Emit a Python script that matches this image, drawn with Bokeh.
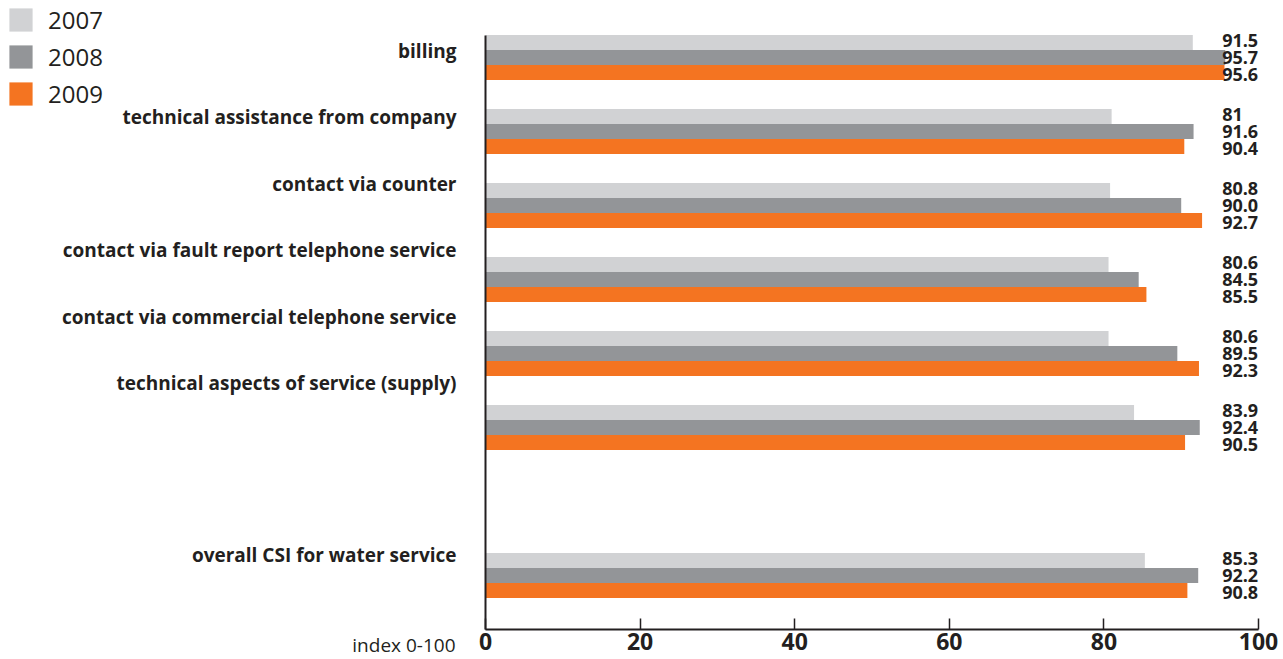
from bokeh.plotting import figure
from bokeh.models import (Range1d, FixedTicker, ColumnDataSource, Legend, LegendItem,
                          LabelSet, Label, LinearAxis)
from bokeh.core.properties import value
from bokeh.embed import file_html
from bokeh.resources import INLINE

# ---------------- data ----------------
categories = [
    "billing",
    "technical assistance from company",
    "contact via counter",
    "contact via fault report telephone service",
    "contact via commercial telephone service",
    "technical aspects of service (supply)",
    "overall CSI for water service",
]
years = ["2007", "2008", "2009"]
values_2007 = [91.5, 81, 80.8, 80.6, 80.6, 83.9, 85.3]
values_2008 = [95.7, 91.6, 90.0, 84.5, 89.5, 92.4, 92.2]
values_2009 = [95.6, 90.4, 92.7, 85.5, 92.3, 90.5, 90.8]
labels_2007 = ["91.5", "81", "80.8", "80.6", "80.6", "83.9", "85.3"]
labels_2008 = ["95.7", "91.6", "90.0", "84.5", "89.5", "92.4", "92.2"]
labels_2009 = ["95.6", "90.4", "92.7", "85.5", "92.3", "90.5", "90.8"]
x_ticks = [0, 20, 40, 60, 80, 100]
axis_note = "index 0-100"

# ---------------- layout / style ----------------
TXT = "#231f20"
COLORS = ["#d1d2d4", "#939598", "#f47421"]
FONT = "Open Sans"
W, H = 1283, 659
X0, X100 = 485, 1258          # pixel columns of 0 and 100
PX = (X100 - X0) / 100.0
slot = [0, 1, 2, 3, 4, 5, 7]            # group slots (gap before overall)
centers = [57 + 74 * s for s in slot]    # y position (pixel-like units from top)
label_y = [50, 116, 183, 249, 316, 382, 554]
BAR_H = 15
AXIS_Y = 629
AXIS_TOP = 35

p = figure(width=W, height=H, output_backend="svg", toolbar_location=None,
           x_range=Range1d(-X0 / PX, 100 + (W - X100) / PX), y_range=Range1d(H, 0),
           x_axis_type=None, y_axis_type=None, min_border=0)
p.outline_line_color = None
p.grid.visible = False
p.background_fill_color = "white"
p.border_fill_color = "white"

renderers = []
for i, (vals, col) in enumerate(zip([values_2007, values_2008, values_2009], COLORS)):
    ys = [c + (i - 1) * BAR_H for c in centers]
    src = ColumnDataSource(dict(y=ys, right=vals))
    r = p.hbar(y="y", left=0, right="right", height=BAR_H, source=src,
               fill_color=col, line_color=None)
    renderers.append(r)

# value labels
for i, labs in enumerate([labels_2007, labels_2008, labels_2009]):
    ys = [c + (i - 1) * 17 for c in centers]
    src = ColumnDataSource(dict(y=ys, t=labs))
    p.add_layout(LabelSet(x=95.3, y="y", text="t", source=src, text_align="left",
                          text_baseline="middle", text_font=value(FONT),
                          text_font_style="bold", text_font_size="18px",
                          text_color=TXT))

# x axis
xa = LinearAxis(fixed_location=AXIS_Y, bounds=(0, 100), ticker=FixedTicker(ticks=x_ticks))
xa.major_tick_in = 11
xa.major_tick_out = 0
xa.minor_tick_line_color = None
xa.axis_line_width = 2
xa.axis_line_color = TXT
xa.major_tick_line_color = TXT
xa.major_tick_line_width = 1.5
xa.major_label_standoff = 3
xa.major_label_text_font = FONT
xa.major_label_text_font_style = "bold"
xa.major_label_text_font_size = "23px"
xa.major_label_text_color = TXT
p.add_layout(xa, "below")

# y axis with category labels
ya = LinearAxis(fixed_location=0, bounds=(AXIS_TOP, AXIS_Y), ticker=FixedTicker(ticks=label_y))
ya.major_label_overrides = {y: c for y, c in zip(label_y, categories)}
ya.major_tick_in = 0
ya.major_tick_out = 0
ya.minor_tick_line_color = None
ya.axis_line_width = 2
ya.axis_line_color = TXT
ya.major_label_standoff = 29
ya.major_label_text_font = FONT
ya.major_label_text_font_style = "bold"
ya.major_label_text_font_size = "19px"
ya.major_label_text_color = TXT
p.add_layout(ya, "left")

# axis note
p.add_layout(Label(x=-30 / PX, y=644, text=axis_note, text_align="right",
                   text_baseline="middle", text_font=FONT, text_font_size="19px",
                   text_color=TXT))

# legend
legend = Legend(items=[LegendItem(label=y, renderers=[r]) for y, r in zip(years, renderers)],
                location=(6, 549), glyph_width=29, glyph_height=29,
                label_standoff=13, spacing=4, padding=0, margin=0,
                label_text_font=FONT, label_text_font_size="24px",
                label_text_color=TXT, border_line_color=None,
                background_fill_alpha=0)
p.add_layout(legend)

open("out.html", "w").write(file_html(p, INLINE))
